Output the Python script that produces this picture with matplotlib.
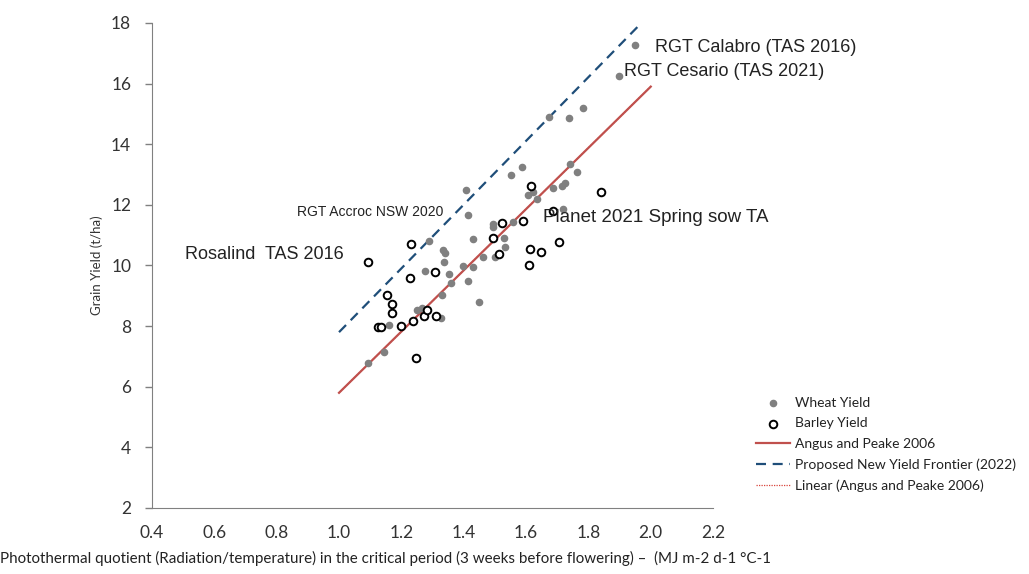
import matplotlib.pyplot as plt

# Wheat yield points (photothermal quotient, t/ha)
wheat_x = [1.950, 1.898, 1.783, 1.738, 1.674, 1.587, 1.741, 1.763, 1.552, 1.606,
           1.622, 1.634, 1.685, 1.714, 1.725, 1.717, 1.406, 1.415, 1.558, 1.494,
           1.494, 1.431, 1.529, 1.533, 1.500, 1.461, 1.334, 1.340, 1.337, 1.399,
           1.431, 1.354, 1.415, 1.358, 1.329, 1.449, 1.290, 1.276, 1.327, 1.251,
           1.265, 1.160, 1.145, 1.094]
wheat_y = [17.28, 16.26, 15.20, 14.87, 14.90, 13.24, 13.35, 13.07, 12.99, 12.33,
           12.44, 12.18, 12.56, 12.63, 12.72, 11.85, 12.49, 11.67, 11.45, 11.37,
           11.28, 10.88, 10.92, 10.60, 10.29, 10.27, 10.50, 10.42, 10.13, 9.99,
           9.96, 9.71, 9.50, 9.42, 9.03, 8.79, 10.81, 9.82, 8.26, 8.53,
           8.59, 8.04, 7.13, 6.78]

# Barley yield points
barley_x = [1.616, 1.842, 1.688, 1.591, 1.707, 1.613, 1.647, 1.524, 1.493, 1.514,
            1.611, 1.231, 1.094, 1.308, 1.228, 1.153, 1.171, 1.171, 1.124, 1.134,
            1.198, 1.236, 1.274, 1.281, 1.311, 1.246]
barley_y = [12.61, 12.41, 11.81, 11.48, 10.79, 10.54, 10.43, 11.40, 10.90, 10.39,
            10.02, 10.70, 10.10, 9.80, 9.60, 9.01, 8.73, 8.43, 7.98, 7.98,
            8.01, 8.17, 8.34, 8.53, 8.34, 6.96]

# Boundary lines
angus_x = [1.0, 2.0]
angus_y = [5.8, 15.9]
frontier_x = [1.0, 1.97]
frontier_y = [7.8, 18.0]

xticks = [0.4, 0.6, 0.8, 1.0, 1.2, 1.4, 1.6, 1.8, 2.0, 2.2]
yticks = [2, 4, 6, 8, 10, 12, 14, 16, 18]

fig = plt.figure(figsize=(10.29, 5.74), dpi=100)
ax = fig.add_axes([0.1477, 0.115, 0.5453, 0.845])

ax.scatter(wheat_x, wheat_y, s=20, color='#808080', label='Wheat Yield', zorder=3)
ax.scatter(barley_x, barley_y, s=30, facecolors='white', edgecolors='black',
           linewidths=1.4, label='Barley Yield', zorder=3)
ax.plot(angus_x, angus_y, color='#c0504d', linewidth=1.6, label='Angus and Peake 2006')
ax.plot(frontier_x, frontier_y, color='#1f4e79', linewidth=1.6, linestyle=(0, (4.5, 3)),
        label='Proposed New Yield Frontier (2022)')
ax.plot(angus_x, angus_y, color='#d9443c', linewidth=0.9, linestyle=(0, (1, 1)),
        label='Linear (Angus and Peake 2006)', zorder=1)

ax.set_xlim(0.4, 2.2)
ax.set_ylim(2, 18)
ax.set_xticks(xticks)
ax.set_xticklabels([f'{v:.1f}' for v in xticks], fontfamily='Lato', fontsize=12.5)
ax.set_yticks(yticks)
ax.set_yticklabels([str(v) for v in yticks], fontfamily='Lato', fontsize=12.5)
ax.tick_params(axis='x', length=0, pad=12, colors='#333333')
ax.tick_params(axis='y', length=5, width=1, color='#808080', pad=10, labelcolor='#333333')

for side in ['top', 'right']:
    ax.spines[side].set_visible(False)
for side in ['left', 'bottom']:
    ax.spines[side].set_color('#808080')

ax.set_ylabel('Grain Yield (t/ha)', fontfamily='Lato', fontsize=9.5, color='#333333', labelpad=6)
fig.text(0.0, 0.014,
         'Photothermal quotient (Radiation/temperature) in the critical period (3 weeks before flowering) \u2013  (MJ m-2 d-1 \u00b0C-1',
         fontfamily='Lato', fontsize=10.9, color='#222222', ha='left', va='bottom')

# Point annotations
ax.text(2.013, 17.18, 'RGT Calabro (TAS 2016)', fontfamily='Liberation Sans', fontsize=13, color='#222222', va='center')
ax.text(1.914, 16.39, 'RGT Cesario (TAS 2021)', fontfamily='Liberation Sans', fontsize=13, color='#222222', va='center')
ax.text(0.866, 11.77, 'RGT Accroc NSW 2020', fontfamily='Liberation Sans', fontsize=10, color='#222222', va='center')
ax.text(0.505, 10.35, 'Rosalind  TAS 2016', fontfamily='Liberation Sans', fontsize=13, color='#222222', va='center')
ax.text(1.655, 11.57, 'Planet 2021 Spring sow TA', fontfamily='Liberation Sans', fontsize=13.5, color='#222222', va='center')

ax.legend(loc='upper left', bbox_to_anchor=(1.055, 0.255), frameon=False,
          prop={'family': 'Lato', 'size': 10}, handlelength=2.4, handletextpad=0.4,
          labelspacing=0.62, labelcolor='#222222')

fig.savefig('out.png', dpi=100)
